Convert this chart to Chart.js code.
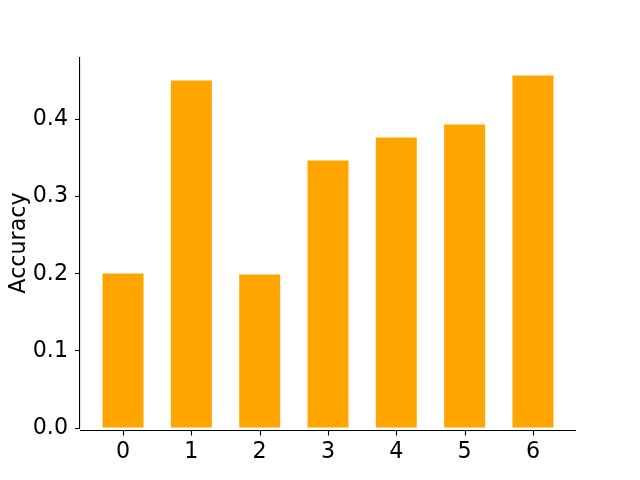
<!DOCTYPE html>
<html><head><meta charset="utf-8">
<script src="https://cdn.jsdelivr.net/npm/chart.js@4"></script>
<style>html,body{margin:0;padding:0;background:#fff}#wrap{width:640px;height:480px}</style>
</head><body><div id="wrap"><canvas id="c" width="640" height="480"></canvas></div>
<script>
const categories = [0, 1, 2, 3, 4, 5, 6];
const accuracy = [0.2004, 0.4508, 0.1990, 0.3470, 0.3768, 0.3937, 0.4570];
const yTicks = [0.0, 0.1, 0.2, 0.3, 0.4];
const xTicks = [0, 1, 2, 3, 4, 5, 6];

const FONT = {family: 'DejaVu Sans', size: 22.2};
const xMin = -0.3 - 0.05 * 6.6, xMax = 6.3 + 0.05 * 6.6;
const yMax = Math.max(...accuracy) * 1.05;

const bottomSpine = {
  id: 'bottomSpine',
  afterDraw(chart) {
    const ctx = chart.ctx, ca = chart.chartArea, xs = chart.scales.x;
    const y = ca.bottom + 2.5;
    ctx.save();
    ctx.strokeStyle = '#000'; ctx.lineWidth = 1.1;
    ctx.beginPath(); ctx.moveTo(ca.left, y); ctx.lineTo(ca.right, y); ctx.stroke();
    xTicks.forEach(v => {
      const px = Math.round(xs.getPixelForValue(v)) + 0.5;
      ctx.beginPath(); ctx.moveTo(px, y); ctx.lineTo(px, y + 5); ctx.stroke();
    });
    ctx.restore();
  }
};

new Chart(document.getElementById('c'), {
  type: 'bar',
  data: {
    datasets: [{
      data: categories.map((c, i) => ({x: c, y: accuracy[i]})),
      backgroundColor: '#FFA500',
      borderWidth: 0,
      barPercentage: 0.6,
      categoryPercentage: 1.0
    }]
  },
  options: {
    responsive: false,
    animation: false,
    devicePixelRatio: 1,
    layout: {padding: {top: 58, right: 64, left: 0, bottom: 0}},
    plugins: {legend: {display: false}, tooltip: {enabled: false}},
    scales: {
      x: {
        type: 'linear', min: xMin, max: xMax, offset: false,
        afterBuildTicks: s => { s.ticks = xTicks.map(v => ({value: v})); },
        afterFit: s => { s.height = 52; },
        grid: {display: false, drawTicks: false},
        border: {display: false},
        ticks: {font: FONT, color: '#000', padding: 11, maxRotation: 0, callback: v => String(v)}
      },
      y: {
        min: 0, max: yMax,
        afterBuildTicks: s => { s.ticks = yTicks.map(v => ({value: v})); },
        afterFit: s => { s.width = 80; },
        grid: {drawOnChartArea: false, drawTicks: true, tickLength: 5, color: '#000', lineWidth: 1},
        border: {display: true, color: '#000', width: 1.1},
        ticks: {font: FONT, color: '#000', padding: 7, callback: v => Number(v).toFixed(1)},
        title: {display: true, text: 'Accuracy', font: FONT, color: '#000', padding: {top: 6, bottom: 0}}
      }
    }
  },
  plugins: [bottomSpine]
});
</script></body></html>
